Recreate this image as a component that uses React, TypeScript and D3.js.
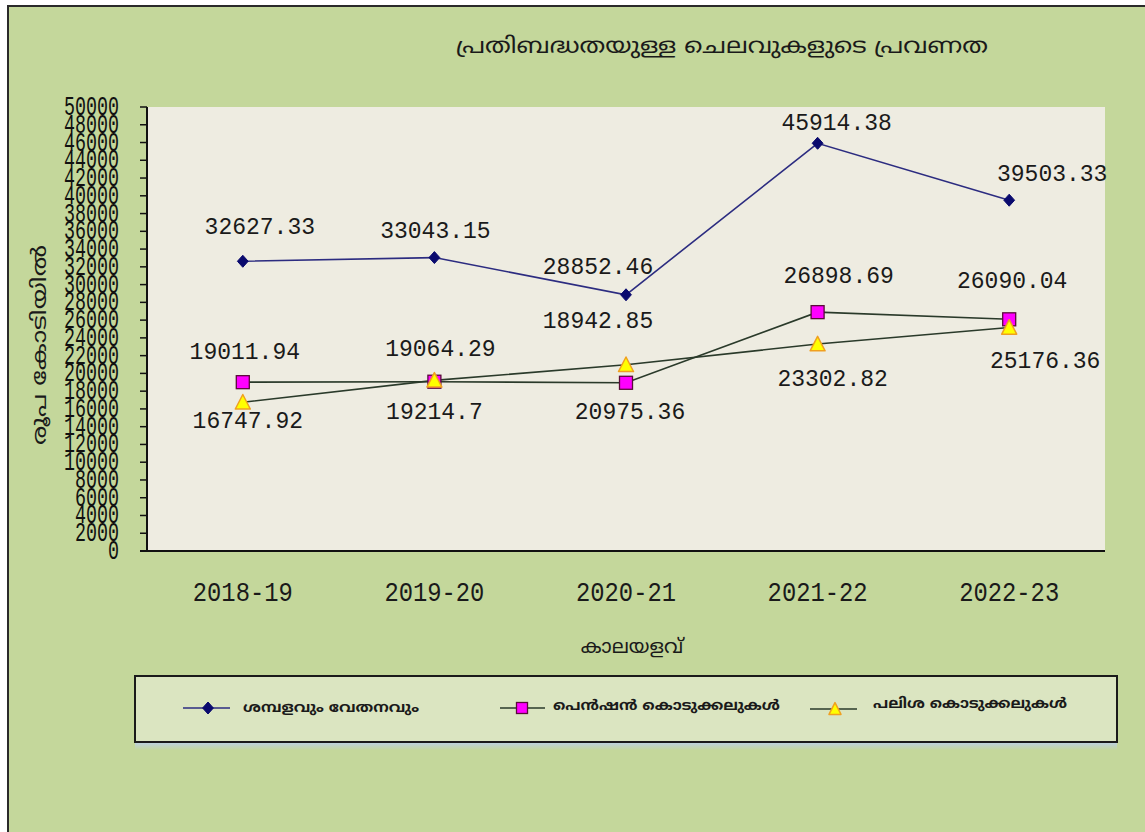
import React from "react";
import * as d3 from "d3";

const categories = ["2018-19", "2019-20", "2020-21", "2021-22", "2022-23"];
const salaries = [32627.33, 33043.15, 28852.46, 45914.38, 39503.33];
const pension = [19011.94, 19064.29, 18942.85, 26898.69, 26090.04];
const interest = [16747.92, 19214.7, 20975.36, 23302.82, 25176.36];
const yTicks = d3.range(0, 50001, 2000);

const titleText = "പ്രതിബദ്ധതയുള്ള ചെലവുകളുടെ പ്രവണത";
const yTitle = "രൂപ കോടിയിൽ";
const xTitle = "കാലയളവ്";
const seriesNames = ["ശമ്പളവും വേതനവും", "പെൻഷൻ കൊടുക്കലുകൾ", "പലിശ കൊടുക്കലുകൾ"];

// label offsets (px) relative to each point: [dx, dy of text centre]
const salaryLabelOffsets = [[17, -33], [1, -26], [-28, -27], [19, -19], [43, -25]];
const pensionLabelOffsets = [[2, -29], [6, -32], [-28, -61], [21, -35], [3, -37]];
const interestLabelOffsets = [[5, 20], [0, 33], [4, 48], [15, 36], [36, 35]];

const W = 1145, H = 832;
const plot = { left: 147, right: 1105, top: 107, bottom: 551 };
const GREEN = "#c4d79b";
const PLOT_BG = "#eeece1";
const MAL = "'Noto Sans Malayalam', 'Noto Sans', 'DejaVu Sans', sans-serif";
const NUM = "'Liberation Mono', 'DejaVu Sans Mono', monospace";

const x = d3.scalePoint<string>().domain(categories).range([plot.left, plot.right]).padding(0.5);
const y = d3.scaleLinear().domain([0, 50000]).range([plot.bottom, plot.top]);

const line = d3.line<number>().x((_, i) => x(categories[i]) as number).y((d) => y(d));

function Diamond({ cx, cy, s = 6 }: { cx: number; cy: number; s?: number }) {
  return <path d={`M${cx},${cy - s}L${cx + s * 0.9},${cy}L${cx},${cy + s}L${cx - s * 0.9},${cy}Z`} fill="#0a0a6e" stroke="#0a0a6e" strokeWidth={1} />;
}
function Square({ cx, cy, s = 13 }: { cx: number; cy: number; s?: number }) {
  return <rect x={cx - s / 2} y={cy - s / 2} width={s} height={s} fill="#ff00ff" stroke="#5a0a3a" strokeWidth={1.3} />;
}
function Triangle({ cx, cy, s = 15 }: { cx: number; cy: number; s?: number }) {
  const h = s * 0.9;
  return <path d={`M${cx},${cy - h / 2 - 1}L${cx + s / 2},${cy + h / 2}L${cx - s / 2},${cy + h / 2}Z`} fill="#ffff00" stroke="#f0a020" strokeWidth={1.5} strokeLinejoin="round" />;
}

function Labels({ values, offsets }: { values: number[]; offsets: number[][] }) {
  return (
    <g>
      {values.map((v, i) => {
        const txt = String(v);
        return (
          <text
            key={i}
            x={(x(categories[i]) as number) + offsets[i][0]}
            y={y(v) + offsets[i][1]}
            textAnchor="middle"
            dominantBaseline="central"
            fontFamily={NUM}
            fontSize={23}
            fill="#1a1a1a"
            textLength={txt.length * 13.8}
            lengthAdjust="spacingAndGlyphs"
          >
            {txt}
          </text>
        );
      })}
    </g>
  );
}

export default function App() {
  const lg = { x: 135, y: 676, w: 982, h: 66 };
  const ly = lg.y + lg.h / 2 - 1;
  const legText = { fontFamily: MAL, fontSize: 14, fontWeight: "bold" as const, fill: "#1a1a1a" };
  return (
    <svg width={W} height={H} style={{ position: "absolute", left: 0, top: 0, background: "#fff" }}>
      <defs>
        <linearGradient id="shadow" x1="0" y1="0" x2="0" y2="1">
          <stop offset="0" stopColor="#bcd0e6" />
          <stop offset="1" stopColor={GREEN} />
        </linearGradient>
      </defs>
      <rect x={8} y={6} width={W + 20} height={H + 20} fill={GREEN} stroke="#2a2a2a" strokeWidth={2} />

      {/* title */}
      <text x={722} y={47} textAnchor="middle" dominantBaseline="central" fontFamily={MAL} fontSize={22} fill="#1a1a1a" textLength={532} lengthAdjust="spacingAndGlyphs">
        {titleText}
      </text>

      {/* plot area */}
      <rect x={plot.left} y={plot.top} width={plot.right - plot.left} height={plot.bottom - plot.top} fill={PLOT_BG} />

      {/* y axis */}
      <line x1={plot.left} x2={plot.left} y1={plot.top} y2={plot.bottom} stroke="#111" strokeWidth={2} />
      <line x1={plot.left - 7} x2={plot.right} y1={plot.bottom} y2={plot.bottom} stroke="#111" strokeWidth={2} />
      {yTicks.map((t) => (
        <g key={t}>
          <line x1={plot.left - 7} x2={plot.left} y1={y(t)} y2={y(t)} stroke="#111" strokeWidth={1.5} />
          <text
            x={119}
            y={y(t) + 1}
            textAnchor="end"
            dominantBaseline="central"
            fontFamily={NUM}
            fontSize={27}
            fill="#111"
            textLength={String(t).length * 11}
            lengthAdjust="spacingAndGlyphs"
          >
            {t}
          </text>
        </g>
      ))}

      {/* x labels */}
      {categories.map((c) => (
        <text
          key={c}
          x={x(c) as number}
          y={593}
          textAnchor="middle"
          dominantBaseline="central"
          fontFamily={NUM}
          fontSize={28}
          fill="#1a1a1a"
          textLength={100}
          lengthAdjust="spacingAndGlyphs"
        >
          {c}
        </text>
      ))}

      {/* axis titles */}
      <text x={632} y={648} textAnchor="middle" dominantBaseline="central" fontFamily={MAL} fontSize={20} fill="#1a1a1a">
        {xTitle}
      </text>
      <text
        transform={`translate(41,345) rotate(-90)`}
        textAnchor="middle"
        dominantBaseline="central"
        fontFamily={MAL}
        fontSize={20}
        fill="#1a1a1a"
        textLength={200}
        lengthAdjust="spacingAndGlyphs"
      >
        {yTitle}
      </text>

      {/* lines */}
      <path d={line(salaries) as string} fill="none" stroke="#2c2c80" strokeWidth={1.6} />
      <path d={line(pension) as string} fill="none" stroke="#2a3a2a" strokeWidth={1.6} />
      <path d={line(interest) as string} fill="none" stroke="#2a3a2a" strokeWidth={1.6} />

      {salaries.map((v, i) => <Diamond key={"s" + i} cx={x(categories[i]) as number} cy={y(v)} />)}
      {pension.map((v, i) => <Square key={"p" + i} cx={x(categories[i]) as number} cy={y(v)} />)}
      {interest.map((v, i) => <Triangle key={"i" + i} cx={x(categories[i]) as number} cy={y(v)} />)}

      <Labels values={salaries} offsets={salaryLabelOffsets} />
      <Labels values={pension} offsets={pensionLabelOffsets} />
      <Labels values={interest} offsets={interestLabelOffsets} />

      {/* legend */}
      <rect x={lg.x} y={lg.y + lg.h} width={lg.w} height={8} fill="url(#shadow)" />
      <rect x={lg.x} y={lg.y} width={lg.w} height={lg.h} fill="#dbe5c1" stroke="#1a1a1a" strokeWidth={2} />
      <line x1={183} x2={230} y1={ly} y2={ly} stroke="#2c2c80" strokeWidth={1.6} />
      <Diamond cx={208} cy={ly} s={6} />
      <text x={243} y={ly} dominantBaseline="central" {...legText} textLength={176} lengthAdjust="spacingAndGlyphs">{seriesNames[0]}</text>
      <line x1={500} x2={545} y1={ly} y2={ly} stroke="#2a3a2a" strokeWidth={1.6} />
      <Square cx={522} cy={ly} s={11} />
      <text x={553} y={ly - 2} dominantBaseline="central" {...legText} textLength={227} lengthAdjust="spacingAndGlyphs">{seriesNames[1]}</text>
      <line x1={810} x2={857} y1={ly + 1} y2={ly + 1} stroke="#2a3a2a" strokeWidth={1.6} />
      <Triangle cx={835} cy={ly + 1} s={12} />
      <text x={873} y={ly - 4} dominantBaseline="central" {...legText} textLength={194} lengthAdjust="spacingAndGlyphs">{seriesNames[2]}</text>
    </svg>
  );
}
